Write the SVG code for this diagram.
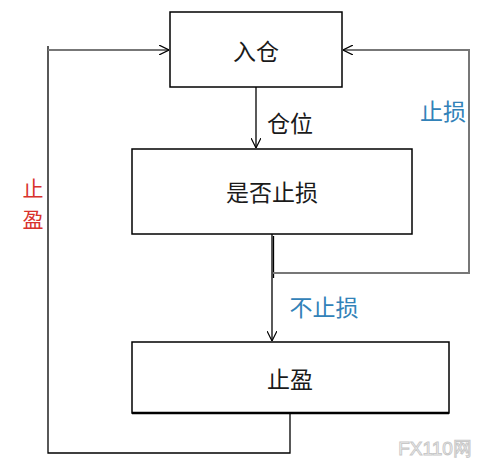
<svg xmlns="http://www.w3.org/2000/svg" width="486" height="461" viewBox="0 0 486 461">
<style>
.box{fill:#fff;stroke:#000;stroke-width:1.5}
.t{font-family:"Noto Sans CJK SC",sans-serif;font-size:23px;text-anchor:middle;dominant-baseline:central;fill:#1a1a1a}
.blue{fill:#3282b8}
.red{fill:#d8322c;font-size:21px}
.ln{fill:none;stroke:#000;stroke-width:1.3}
.gl{fill:none;stroke:#777;stroke-width:2}
</style>
<defs>
<marker id="ah" viewBox="0 0 10 10" refX="10" refY="5" markerWidth="10" markerHeight="10" markerUnits="userSpaceOnUse" orient="auto">
<path d="M0,0 L10,5 L0,10" fill="none" stroke="#000" stroke-width="1.2"/>
</marker>
</defs>
<rect width="486" height="461" fill="#fff"/>
<g id="connectors">
<line class="ln" x1="256" y1="87" x2="256" y2="148" marker-end="url(#ah)"/>
<line class="ln" x1="272" y1="234" x2="272" y2="341" marker-end="url(#ah)"/>
<line class="ln" x1="273.5" y1="236" x2="273.5" y2="278"/>
<polyline class="gl" points="273,273 469,273 469,50 343,50" marker-end="url(#ah)"/>
<polyline class="ln" points="290,413 290,453 48,453 48,46"/>
<line class="gl" x1="48" y1="50" x2="169" y2="50" marker-end="url(#ah)"/>
<text class="t" x="290" y="122">仓位</text>
<text class="t blue" x="443" y="110">止损</text>
<text class="t blue" x="324" y="306">不止损</text>
<text class="t red" x="33" y="187">止</text>
<text class="t red" x="33" y="218">盈</text>
</g>
<g id="n1"><rect class="box" x="170" y="12" width="172" height="75"/><text class="t" x="256" y="50">入仓</text></g>
<g id="n2"><rect class="box" x="132" y="149" width="280" height="85"/><text class="t" x="272" y="191">是否止损</text></g>
<g id="n3"><rect class="box" x="132" y="342" width="317" height="71"/><line x1="132" y1="413" x2="449" y2="413" stroke="#000" stroke-width="2.5"/><text class="t" x="290" y="378">止盈</text></g>
<text x="435" y="448" font-family="Liberation Sans,sans-serif" font-size="19" text-anchor="middle" dominant-baseline="central" fill="#fff" stroke="#c8c8c8" stroke-width="1">FX110网</text>
</svg>
